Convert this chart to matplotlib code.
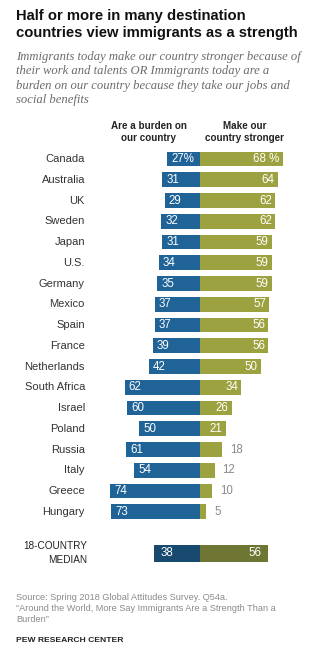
import matplotlib.pyplot as plt

countries = ["Canada", "Australia", "UK", "Sweden", "Japan", "U.S.", "Germany",
             "Mexico", "Spain", "France", "Netherlands", "South Africa", "Israel",
             "Poland", "Russia", "Italy", "Greece", "Hungary"]
burden = [27, 31, 29, 32, 31, 34, 35, 37, 37, 39, 42, 62, 60, 50, 61, 54, 74, 73]
stronger = [68, 64, 62, 62, 59, 59, 59, 57, 56, 56, 50, 34, 26, 21, 18, 12, 10, 5]
median_burden = 38
median_stronger = 56

BLUE = "#1f6397"
GREEN = "#9ca23f"
BLUE_D = "#18496f"
GREEN_D = "#6f7634"

plt.rcParams['font.family'] = ['Liberation Sans', 'DejaVu Sans']

W, H = 332, 650
fig = plt.figure(figsize=(W / 100, H / 100), dpi=100)
ax = fig.add_axes([0, 0, 1, 1])
px = 1.215    # pixels per percentage point
row = 20.75   # pixels per row
x0, y0 = 200, 159
ax.set_xlim(-x0 / px, (W - x0) / px)
ax.set_ylim((H - y0) / row, -y0 / row)
ax.axis("off")

ys = list(range(len(countries)))
ax.barh(ys, [-b for b in burden], height=0.72, color=BLUE)
ax.barh(ys, stronger, height=0.72, color=GREEN)

for i, (c, b, s) in enumerate(zip(countries, burden, stronger)):
    ax.text(-115 / px, i, c, ha="right", va="center", fontsize=8, color="#333333")
    bl = f"{b}%" if i == 0 else str(b)
    ax.text(-b + 4 / px, i, bl, ha="left", va="center", fontsize=8.3, color="white")
    sl = f"{s} %" if i == 0 else str(s)
    if s >= 20:
        ax.text(s - 3 / px, i, sl, ha="right", va="center", fontsize=8.3, color="white")
    else:
        ax.text(s + 8 / px, i, sl, ha="left", va="center", fontsize=8.3, color="#8a8a8a")

ym = 19
ax.barh([ym], [-median_burden], height=0.8, color=BLUE_D)
ax.barh([ym], [median_stronger], height=0.8, color=GREEN_D)
ax.text(-median_burden + 7 / px, ym, str(median_burden), ha="left", va="center",
        fontsize=8.3, color="white")
ax.text(median_stronger - 7 / px, ym, str(median_stronger), ha="right", va="center",
        fontsize=8.3, color="white")
ax.text(-113 / px, ym, "18-COUNTRY\nMEDIAN", ha="right", va="center", fontsize=7.2,
        color="#222222", linespacing=1.55)

# headers
ax.text(-51 / px, (132 - y0) / row, "Are a burden on\nour country", ha="center",
        va="center", fontsize=7.1, fontweight="bold", color="#222222", linespacing=1.2)
ax.text(45 / px, (132 - y0) / row, "Make our\ncountry stronger", ha="center",
        va="center", fontsize=7.1, fontweight="bold", color="#222222", linespacing=1.2)

# title and subtitle
fig.text(16 / W, 1 - 9 / H, "Half or more in many destination\ncountries view immigrants as a strength",
         ha="left", va="top", fontsize=10.6, fontweight="bold", color="#111111",
         linespacing=1.3)
fig.text(16 / W, 1 - 51 / H,
         "Immigrants today make our country stronger because of\n"
         "their work and talents OR Immigrants today are a\n"
         "burden on our country because they take our jobs and\n"
         "social benefits",
         ha="left", va="top", fontsize=9.1, style="italic", color="#6b6b6b",
         family=["Liberation Serif", "DejaVu Serif"], linespacing=1.25)

# footer
fig.text(16 / W, 1 - 593 / H,
         "Source: Spring 2018 Global Attitudes Survey. Q54a.\n"
         "\u201cAround the World, More Say Immigrants Are a Strength Than a\n"
         "Burden\u201d",
         ha="left", va="top", fontsize=6.6, color="#8a8a8a", linespacing=1.3)
fig.text(16 / W, 1 - 637 / H, "PEW RESEARCH CENTER", ha="left", va="top",
         fontsize=6.1, fontweight="bold", color="#222222")

fig.savefig("out.png", dpi=100, facecolor="white")
